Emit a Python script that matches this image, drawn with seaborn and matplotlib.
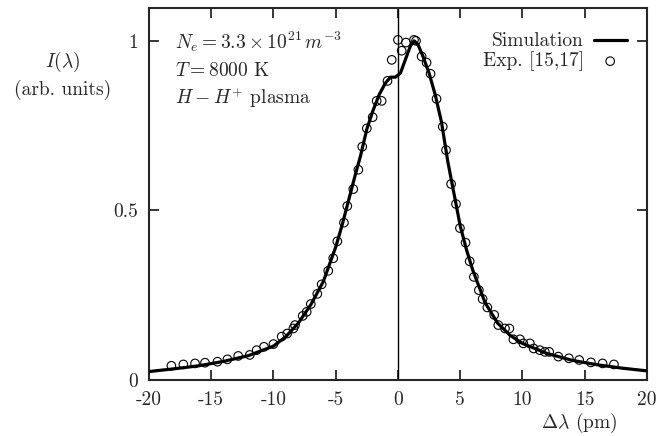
import numpy as np
import pandas as pd
import matplotlib
matplotlib.use("Agg")
import matplotlib.pyplot as plt
import seaborn as sns

# Simulated profile
sim_x = [-20, -18, -16, -14, -12, -10, -9, -8, -7, -6, -5, -4.5, -4, -3.5, -3, -2.5,
         -2, -1.5, -1, -0.6, -0.2, 0.2, 0.6, 1.0, 1.3, 1.6, 2, 2.5, 3, 3.5, 4, 4.5,
         5, 5.5, 6, 7, 8, 9, 10, 12, 14, 16, 18, 20]
sim_y = [0.025, 0.033, 0.042, 0.055, 0.072, 0.100, 0.128, 0.168, 0.222, 0.290, 0.392,
         0.455, 0.525, 0.595, 0.662, 0.740, 0.795, 0.842, 0.876, 0.893, 0.893, 0.905,
         0.945, 0.985, 1.0, 0.99, 0.955, 0.905, 0.84, 0.76, 0.645, 0.55, 0.455, 0.385,
         0.325, 0.228, 0.168, 0.132, 0.108, 0.078, 0.058, 0.045, 0.035, 0.027]

# Experimental points [15,17]
exp_x = [-18.2, -17.24, -16.3, -15.5, -14.5, -13.7, -12.83, -11.9, -11.35, -10.76,
         -10.0, -9.34, -8.9, -8.4, -8.27, -7.65, -7.33, -7.0, -6.48, -6.13, -5.6,
         -5.2, -4.87, -4.34, -4.07, -3.59, -3.18, -2.87, -2.5, -2.03, -1.71, -1.31,
         -0.84, -0.5, 0.0, 0.3, 0.64, 1.29, 1.45, 1.9, 2.3, 2.62, 3.1, 3.6, 3.86,
         4.27, 4.66, 4.98, 5.43, 5.76, 6.1, 6.5, 6.8, 7.18, 7.73, 8.06, 8.6, 8.95,
         9.27, 9.8, 10.07, 10.6, 10.9, 11.4, 11.8, 12.15, 12.88, 13.73, 14.56, 15.5,
         16.44, 17.35]
exp_y = [0.042, 0.046, 0.049, 0.051, 0.054, 0.061, 0.071, 0.074, 0.088, 0.098,
         0.106, 0.128, 0.137, 0.152, 0.162, 0.189, 0.201, 0.224, 0.254, 0.282, 0.322,
         0.359, 0.409, 0.464, 0.513, 0.563, 0.62, 0.688, 0.742, 0.775, 0.823, 0.823,
         0.882, 0.944, 1.003, 0.971, 0.995, 1.003, 1.0, 0.954, 0.936, 0.903, 0.829,
         0.747, 0.678, 0.578, 0.519, 0.448, 0.405, 0.35, 0.304, 0.265, 0.239, 0.214,
         0.192, 0.162, 0.152, 0.152, 0.12, 0.12, 0.108, 0.108, 0.093, 0.088, 0.083,
         0.083, 0.069, 0.064, 0.059, 0.052, 0.049, 0.046]

x_ticks = [-20, -15, -10, -5, 0, 5, 10, 15, 20]
y_ticks = [0, 0.5, 1]
y_tick_labels = ["0", "0.5", "1"]

sns.set_style("ticks")
plt.rcParams["font.family"] = ["cmr10", "DejaVu Serif"]
plt.rcParams["mathtext.fontset"] = "cm"
plt.rcParams["axes.unicode_minus"] = False
plt.rcParams["axes.formatter.use_mathtext"] = True

sim = pd.DataFrame({"x": sim_x, "y": sim_y})
exp = pd.DataFrame({"x": exp_x, "y": exp_y})

fig = plt.figure(figsize=(6.69, 4.36), dpi=100)
ax = fig.add_axes([0.2227, 0.1284, 0.7443, 0.8533])

ax.axvline(0, color="black", lw=1.0, zorder=1)
sns.lineplot(data=sim, x="x", y="y", ax=ax, color="black", lw=2.3,
             label="Simulation", zorder=3)
sns.scatterplot(data=exp, x="x", y="y", ax=ax, marker="o", s=38,
                facecolor="none", edgecolor="black", linewidth=0.8,
                label="Exp. [15,17]", zorder=2)

ax.set_xlim(-20, 20)
ax.set_ylim(0, 1.097)
ax.set_xticks(x_ticks)
ax.set_xticklabels([str(t) for t in x_ticks])
ax.set_yticks(y_ticks)
ax.set_yticklabels(y_tick_labels)
ax.tick_params(direction="in", length=7, width=1.3, top=True, right=True,
               labelsize=14, pad=8)
for s in ax.spines.values():
    s.set_linewidth(1.5)
ax.set_xlabel("")
ax.set_ylabel("")

leg = ax.legend(loc="upper right", bbox_to_anchor=(0.975, 0.955), frameon=False,
                markerfirst=False, fontsize=14, handlelength=1.7, borderaxespad=0,
                handletextpad=0.5, labelspacing=0.05)
for h in leg.legend_handles:
    if hasattr(h, "set_markerfacecolor"):
        h.set_markerfacecolor("none")
    else:
        h.set_facecolor("none")

ax.text(0.052, 0.909, r"$N_e = 3.3 \times 10^{21}\, m^{-3}$", transform=ax.transAxes,
        fontsize=14, va="center")
ax.text(0.052, 0.831, r"$T = 8000$ K", transform=ax.transAxes, fontsize=14, va="center")
ax.text(0.052, 0.760, r"$H - H^{+}$ plasma", transform=ax.transAxes, fontsize=14,
        va="center")

fig.text(0.094, 0.858, r"$I(\lambda)$", ha="center", va="center", fontsize=14)
fig.text(0.094, 0.794, "(arb. units)", ha="center", va="center", fontsize=14)
fig.text(0.866, 0.029, r"$\Delta\lambda$ (pm)", ha="center", va="center", fontsize=14)

fig.savefig("out.png", dpi=100)
